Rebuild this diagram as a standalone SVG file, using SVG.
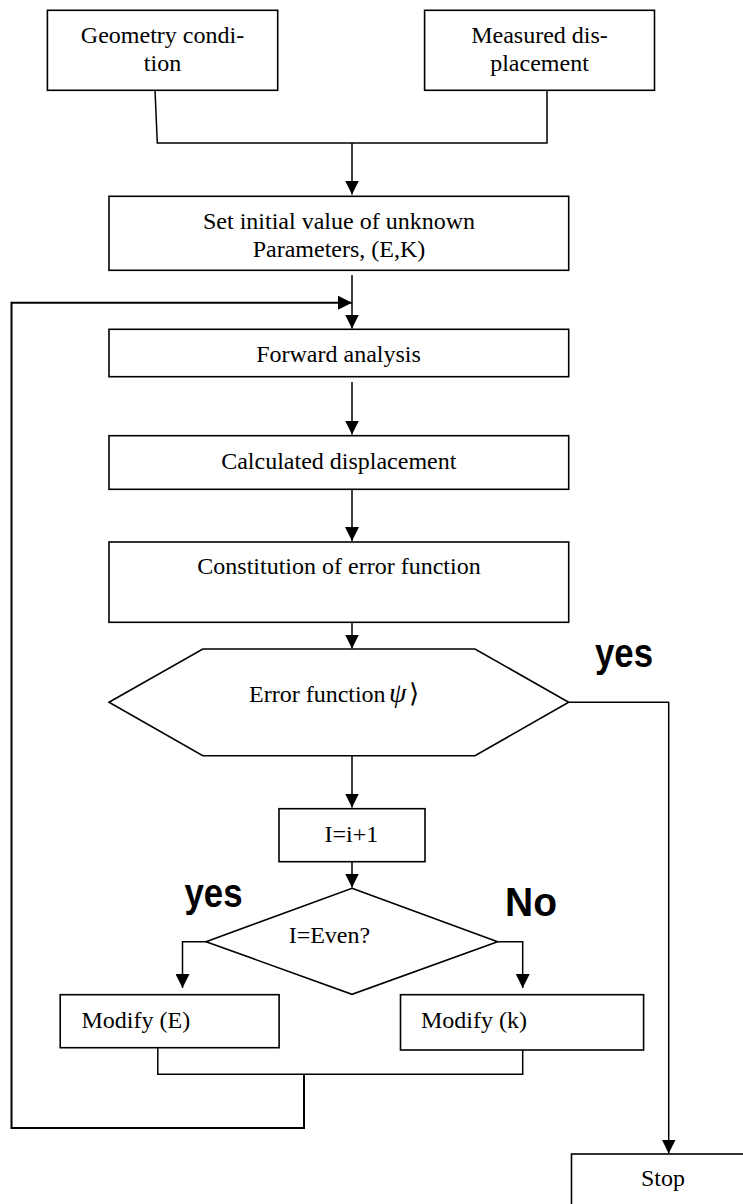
<svg xmlns="http://www.w3.org/2000/svg" width="743" height="1204" viewBox="0 0 743 1204">
<style>
.box{fill:#fff;stroke:#000;stroke-width:1.6}
.t{font-family:"Liberation Serif","Times New Roman",serif;font-size:24px;fill:#000}
.tc{text-anchor:middle}
.lbl{font-family:"Liberation Sans",Arial,sans-serif;font-weight:bold;font-size:40px;fill:#000}
.ln{fill:none;stroke:#000;stroke-width:1.5}
.arr{marker-end:url(#ah)}
</style>
<defs>
<marker id="ah" markerWidth="14" markerHeight="14" refX="14" refY="7" orient="auto" markerUnits="userSpaceOnUse">
<path d="M0,0 L14,7 L0,14 z" fill="#000"/>
</marker>
</defs>
<rect width="743" height="1204" fill="#fff"/>
<g id="connectors">
<path class="ln" d="M155,90 L157.3,143 L547,143 L547,90"/>
<path class="ln arr" d="M352,143 L352,194.5"/>
<path class="ln arr" d="M352,275 L352,328.5"/>
<path class="ln arr" d="M304,1074.3 L304,1128 L11.5,1128 L11.5,302.7 L352,302.7" style="stroke-width:2"/>
<path class="ln arr" d="M352,382 L352,434.5"/>
<path class="ln arr" d="M352,489 L352,541"/>
<path class="ln arr" d="M352,622 L352,648.5"/>
<path class="ln arr" d="M352,756 L352,807.5"/>
<path class="ln arr" d="M352,862 L352,887.5"/>
<path class="ln arr" d="M568.7,702.3 L668.7,702.3 L668.7,1153.5"/>
<path class="ln arr" d="M206,941.7 L182.5,941.7 L182.5,988"/>
<path class="ln arr" d="M497.6,941.7 L522.7,941.7 L522.7,988"/>
<path class="ln" d="M157.8,1047.7 L157.8,1074.3 L522.7,1074.3 L522.7,1046"/>
</g>
<g id="geometry">
<rect class="box" x="47.4" y="10.3" width="230.3" height="80"/>
<text class="t tc" x="162.5" y="43">Geometry condi-</text>
<text class="t tc" x="162.5" y="71">tion</text>
</g>
<g id="measured">
<rect class="box" x="424.6" y="10.3" width="229.9" height="80"/>
<text class="t tc" x="539.5" y="43">Measured dis-</text>
<text class="t tc" x="539.5" y="71">placement</text>
</g>
<g id="setinit">
<rect class="box" x="109" y="196.3" width="459.7" height="74"/>
<text class="t tc" x="339" y="229">Set initial value of unknown</text>
<text class="t tc" x="339" y="257">Parameters, (E,K)</text>
</g>
<g id="forward">
<rect class="box" x="109" y="329.3" width="459.7" height="47.4"/>
<text class="t tc" x="338.5" y="362">Forward analysis</text>
</g>
<g id="calculated">
<rect class="box" x="109" y="435.7" width="459.7" height="53.6"/>
<text class="t tc" x="338.8" y="469">Calculated displacement</text>
</g>
<g id="constitution">
<rect class="box" x="109" y="542" width="459.7" height="80.3"/>
<text class="t tc" x="339" y="574">Constitution of error function</text>
</g>
<g id="errorfn">
<polygon class="box" points="109,702.3 202.8,649 475,649 568.7,702.3 475,755.7 202.8,755.7"/>
<text class="t" x="249" y="702">Error function<tspan x="389" font-style="italic" font-size="28">ψ</tspan><tspan x="409" font-size="26">⟩</tspan></text>
</g>
<g id="increment">
<rect class="box" x="279" y="808.7" width="146" height="53"/>
<text class="t tc" x="351.4" y="842">I=i+1</text>
</g>
<g id="even">
<polygon class="box" points="352,888.3 497.6,941.7 352,994.3 206,941.7"/>
<text class="t tc" x="329.4" y="943">I=Even?</text>
</g>
<g id="modifyE">
<rect class="box" x="60.2" y="994.7" width="218.9" height="53"/>
<text class="t" x="81.5" y="1028">Modify (E)</text>
</g>
<g id="modifyK">
<rect class="box" x="400.5" y="994.7" width="243.1" height="55.3"/>
<text class="t" x="421" y="1028">Modify (k)</text>
</g>
<g id="stop">
<rect class="box" x="571.5" y="1154" width="200" height="70"/>
<text class="t tc" x="663" y="1186">Stop</text>
</g>
<g id="labels">
<text class="lbl" x="595" y="667" textLength="58" lengthAdjust="spacingAndGlyphs">yes</text>
<text class="lbl" x="184.5" y="907" textLength="58" lengthAdjust="spacingAndGlyphs">yes</text>
<text class="lbl" x="505" y="916" textLength="52" lengthAdjust="spacingAndGlyphs">No</text>
</g>
</svg>
